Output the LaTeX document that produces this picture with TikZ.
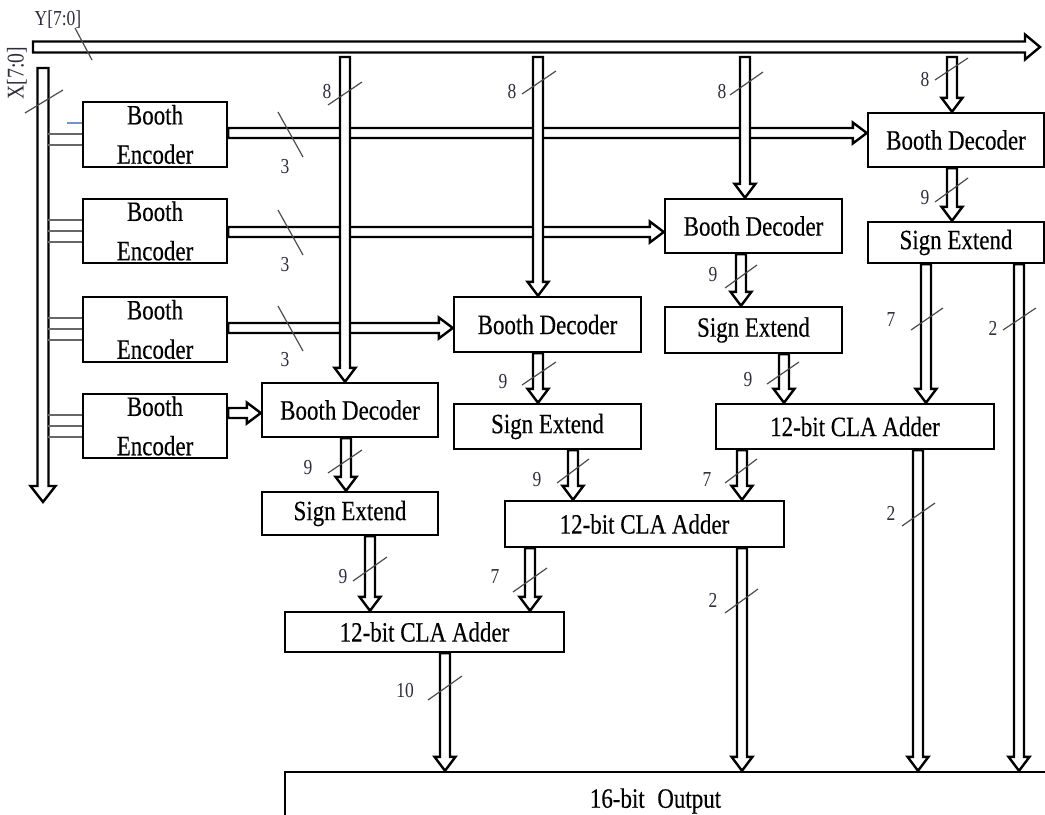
\documentclass[tikz,border=0pt]{standalone}
\usepackage{fontspec}
\setmainfont{Liberation Serif}[FakeStretch=0.82]
\newfontfamily\boxfont{Liberation Serif}[FakeStretch=0.82, FakeBold=0.3]
\usetikzlibrary{calc}
\definecolor{tapblue}{RGB}{110,150,200}
\definecolor{lblc}{RGB}{45,45,60}
\tikzset{
  box/.style={draw, line width=1.8pt, fill=white, inner sep=0pt, align=center,
    font=\boxfont\fontsize{21}{28.5}\selectfont},
  vbus/.style n args={3}{draw, line width=1.8pt, fill=white, line join=miter,
    to path={($(\tikztostart)+(-#1,0)$) -- ($(\tikztotarget)+(-#1,-#3)$) -- ($(\tikztotarget)+(-#2,-#3)$) -- (\tikztotarget) -- ($(\tikztotarget)+(#2,-#3)$) -- ($(\tikztotarget)+(#1,-#3)$) -- ($(\tikztostart)+(#1,0)$) -- cycle}},
  hbus/.style n args={3}{draw, line width=1.8pt, fill=white, line join=miter,
    to path={($(\tikztostart)+(0,-#1)$) -- ($(\tikztotarget)+(-#3,-#1)$) -- ($(\tikztotarget)+(-#3,-#2)$) -- (\tikztotarget) -- ($(\tikztotarget)+(-#3,#2)$) -- ($(\tikztotarget)+(-#3,#1)$) -- ($(\tikztostart)+(0,#1)$) -- cycle}},
  bv/.style={vbus={5}{10.5}{14}},
  bh/.style={hbus={5}{10.5}{14}},
  bvL/.style={vbus={5.5}{12.5}{16}},
  bhL/.style={hbus={5.5}{12.5}{15}},
  tap/.style={draw=black!60, line width=1.2pt},
  lbl/.style={font=\fontsize{16}{18}\selectfont, text=lblc, inner sep=0pt},
  sl/.style={draw=black!70, line width=0.9pt},
}
\newcommand\blk[6]{\node[box, minimum width={(#4-#2)*0.75pt}, minimum height={(#5-#3)*0.75pt}] (#1) at ({(#2+#4)/2},{(#3+#5)/2}) {#6};}
\begin{document}
\begin{tikzpicture}[x=0.75pt, y=-0.75pt]
\useasboundingbox (0,0) rectangle (1045,814);
% main buses
\coordinate (ys) at (33,47);
\coordinate (ye) at (1040,47);
\coordinate (xs) at (43,68);
\coordinate (xe) at (43,502);
\draw[bhL] (ys) to (ye);
\draw[bvL] (xs) to (xe);
% boxes
\blk{enc1}{83}{102}{227}{167}{Booth\\[1pt]Encoder}
\blk{enc2}{83}{199}{227}{263}{Booth\\[1pt]Encoder}
\blk{enc3}{83}{297}{227}{362}{Booth\\[1pt]Encoder}
\blk{enc4}{83}{394}{227}{458}{Booth\\[1pt]Encoder}
\blk{dec1}{262}{383}{438}{437}{Booth Decoder}
\blk{dec2}{454}{297}{641}{352}{Booth Decoder}
\blk{dec3}{665}{199}{842}{253}{Booth Decoder}
\blk{dec4}{868}{113}{1044}{167}{Booth Decoder}
\blk{se1}{262}{492}{438}{535}{Sign Extend}
\blk{se2}{454}{404}{641}{449}{Sign Extend}
\blk{se3}{665}{307}{842}{353}{Sign Extend}
\blk{se4}{868}{222}{1044}{263}{Sign Extend}
\blk{cla1}{285}{612}{564}{652}{12-bit CLA Adder}
\blk{cla2}{505}{501}{784}{547}{12-bit CLA Adder}
\blk{cla3}{716}{404}{994}{449}{12-bit CLA Adder}
\blk{out}{285}{772}{1050}{830}{\hspace{-18pt}16-bit\hspace{0.45em}Output}
% taps from X bus into the encoders
\draw[tap, draw=tapblue] ($(enc1.north west)+(0,22)$) -- +(-15,0);
\draw[tap] ($(enc1.north west)+(0,33)$) -- +(-34,0);
\draw[tap] ($(enc1.north west)+(0,44)$) -- +(-34,0);
\foreach \e in {enc2,enc3,enc4}{
  \draw[tap] ($(\e.north west)+(0,22)$) -- +(-34,0);
  \draw[tap] ($(\e.north west)+(0,33)$) -- +(-34,0);
  \draw[tap] ($(\e.north west)+(0,44)$) -- +(-34,0);
}
% encoder -> decoder buses
\draw[bh] (enc1.east |- 0,133) to (dec4.west |- 0,133);
\draw[bh] (enc2.east |- 0,232) to (dec3.west |- 0,232);
\draw[bh] (enc3.east |- 0,328) to (dec2.west |- 0,328);
\draw[bh] (enc4.east |- 0,413) to (dec1.west |- 0,413);
% Y bus branches
\coordinate (yb1) at (345,57);
\coordinate (yb2) at (538,57);
\coordinate (yb3) at (745,57);
\coordinate (yb4) at (952,57);
\draw[bv] (yb1) to (dec1.north -| yb1);
\draw[bv] (yb2) to (dec2.north -| yb2);
\draw[bv] (yb3) to (dec3.north -| yb3);
\draw[bv] (yb4) to (dec4.north -| yb4);
% decoder -> sign extend
\draw[bv] (dec1.south -| 346,0) to (se1.north -| 346,0);
\draw[bv] (dec2.south -| 538,0) to (se2.north -| 538,0);
\draw[bv] (dec3.south -| 741,0) to (se3.north -| 741,0);
\draw[bv] (dec4.south -| 952,0) to (se4.north -| 952,0);
% sign extend -> adders / output
\draw[bv] (se1.south -| 370,0) to (cla1.north -| 370,0);
\draw[bv] (se2.south -| 573,0) to (cla2.north -| 573,0);
\draw[bv] (se3.south -| 784,0) to (cla3.north -| 784,0);
\draw[bv] (se4.south -| 926,0) to (cla3.north -| 926,0);
\draw[bv] (se4.south -| 1019,0) to (out.north -| 1019,0);
% adders
\draw[bv] (cla3.south -| 742,0) to (cla2.north -| 742,0);
\draw[bv] (cla3.south -| 918,0) to (out.north -| 918,0);
\draw[bv] (cla2.south -| 530,0) to (cla1.north -| 530,0);
\draw[bv] (cla2.south -| 742,0) to (out.north -| 742,0);
\draw[bv] (cla1.south -| 445,0) to (out.north -| 445,0);
% bus labels
\node[lbl] (ly) at (58,20) {Y[7:0]};
\draw[sl] (75,28) -- (92,60);
\node[lbl, rotate=90, font=\fontsize{18}{20}\selectfont] (lx) at (17,73) {X[7:0]};
\draw[sl] (25,113) -- (63,90);
\node[lbl] (l3a) at (285,167) {3}; \draw[sl] (278,112) -- (303,157);
\node[lbl] (l3b) at (285,265) {3}; \draw[sl] (278,210) -- (303,255);
\node[lbl] (l3c) at (285,360) {3}; \draw[sl] (278,306) -- (303,351);
\node[lbl] (l8a) at (327,92) {8}; \draw[sl] (328,105) -- (362,82);
\node[lbl] (l8b) at (512,92) {8}; \draw[sl] (522,94) -- (556,71);
\node[lbl] (l8c) at (722,92) {8}; \draw[sl] (730,95) -- (763,72);
\node[lbl] (l8d) at (925,80) {8}; \draw[sl] (935,80) -- (968,58);
\node[lbl] (l9a) at (308,468) {9}; \draw[sl] (328,473) -- (362,450);
\node[lbl] (l9b) at (503,382) {9}; \draw[sl] (522,385) -- (556,362);
\node[lbl] (l9c) at (713,275) {9}; \draw[sl] (725,288) -- (757,265);
\node[lbl] (l9d) at (925,198) {9}; \draw[sl] (935,202) -- (968,178);
\node[lbl] (l9e) at (343,577) {9}; \draw[sl] (353,581) -- (387,557);
\node[lbl] (l9f) at (537,480) {9}; \draw[sl] (557,483) -- (589,459);
\node[lbl] (l9g) at (748,380) {9}; \draw[sl] (767,384) -- (799,362);
\node[lbl] (l7a) at (891,320) {7}; \draw[sl] (911,330) -- (943,308);
\node[lbl] (l2a) at (993,328) {2}; \draw[sl] (1003,330) -- (1036,308);
\node[lbl] (l7b) at (707,480) {7}; \draw[sl] (725,483) -- (757,459);
\node[lbl] (l2b) at (891,513) {2}; \draw[sl] (902,526) -- (935,503);
\node[lbl] (l7c) at (495,577) {7}; \draw[sl] (513,592) -- (547,568);
\node[lbl] (l2c) at (713,600) {2}; \draw[sl] (725,613) -- (758,589);
\node[lbl] (l10) at (405,690) {10}; \draw[sl] (428,700) -- (462,676);
\end{tikzpicture}
\end{document}
